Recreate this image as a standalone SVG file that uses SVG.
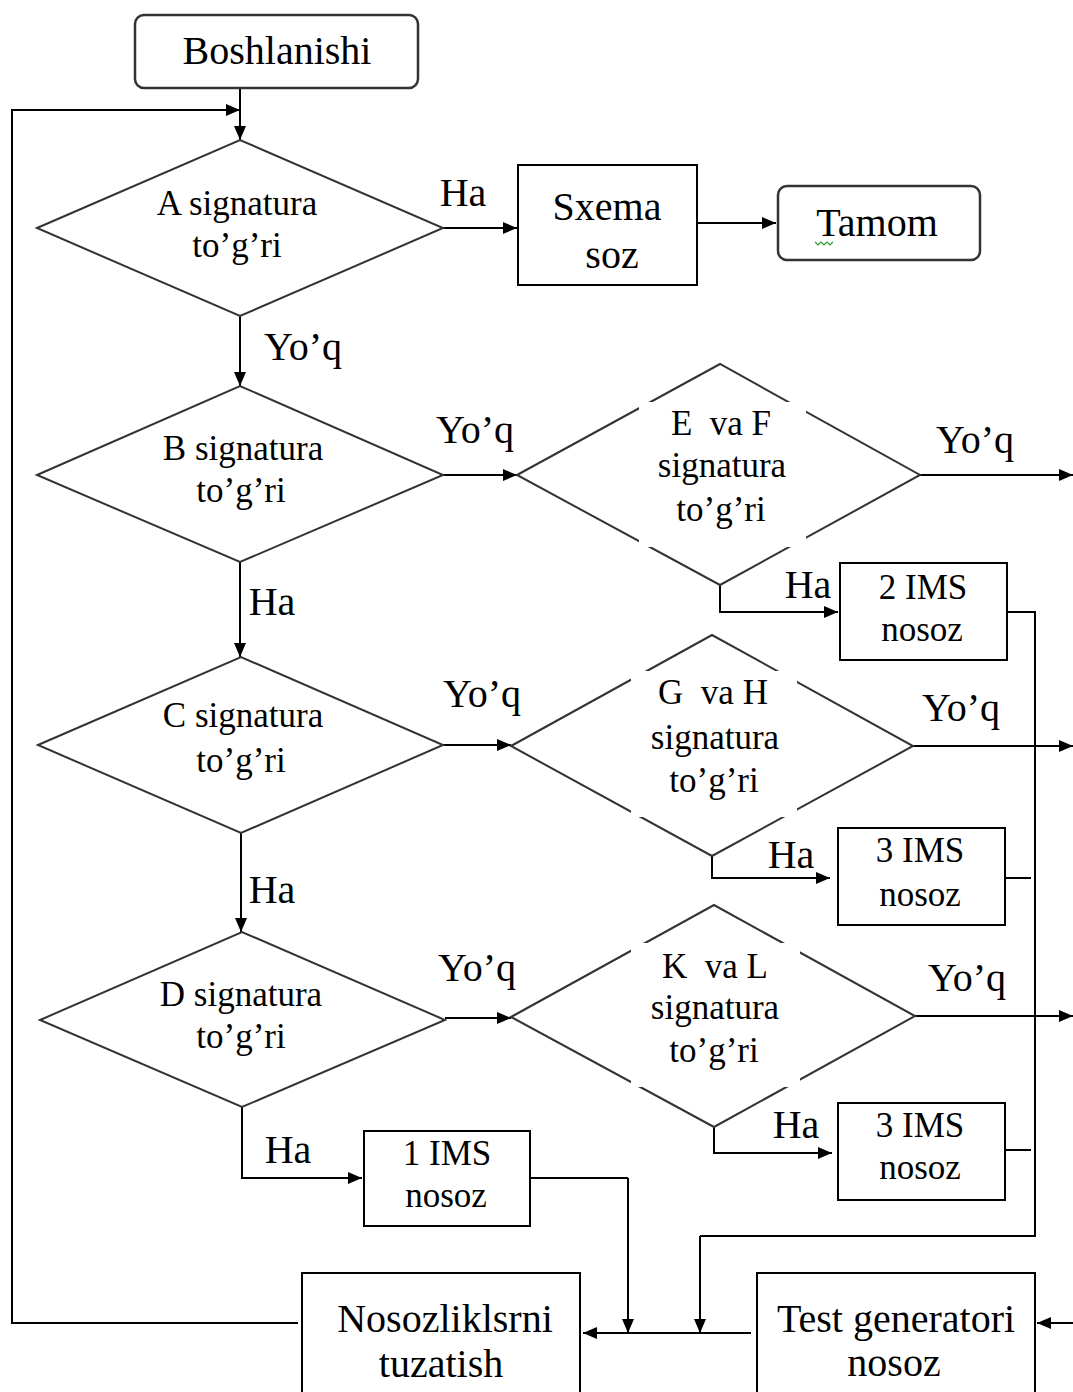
<svg xmlns="http://www.w3.org/2000/svg" width="1073" height="1392" viewBox="0 0 1073 1392">
<style>
.t{font-family:"Liberation Serif","Times New Roman",serif;fill:#000;text-anchor:middle}
.big{font-size:40px}
.mid{font-size:35px}
.pre{white-space:pre}
.box{fill:#fff;stroke:#000;stroke-width:2}
.rbox{fill:#fff;stroke:#333;stroke-width:2.5}
.dia{fill:#fff;stroke:#333;stroke-width:2}
.cover{fill:#fff;stroke:none}
.ln{fill:none;stroke:#000;stroke-width:2}
.arr{fill:none;stroke:#000;stroke-width:2;marker-end:url(#ah)}
</style>
<defs>
<marker id="ah" markerUnits="userSpaceOnUse" markerWidth="14" markerHeight="12" refX="14" refY="6" orient="auto">
<path d="M0,0 L14,6 L0,12 z" fill="#000"/>
</marker>
</defs>
<rect width="1073" height="1392" fill="#fff"/>

<g id="connectors">
<line class="arr" x1="240" y1="88" x2="240" y2="140"/>
<polyline class="arr" points="298,1323 12,1323 12,110 240,110"/>
<line class="arr" x1="443" y1="228" x2="517" y2="228"/>
<line class="arr" x1="697" y1="223" x2="776" y2="223"/>
<line class="arr" x1="240" y1="316" x2="240" y2="386"/>
<line class="arr" x1="443" y1="475" x2="517" y2="475"/>
<line class="arr" x1="920" y1="475" x2="1073" y2="475"/>
<polyline class="arr" points="720,585 720,612 838,612"/>
<polyline class="ln" points="1007,612 1035,612 1035,1236 700,1236"/>
<line class="arr" x1="700" y1="1236" x2="700" y2="1333"/>
<line class="arr" x1="240" y1="562" x2="240" y2="657"/>
<line class="arr" x1="443" y1="745" x2="511" y2="745"/>
<line class="arr" x1="913" y1="746" x2="1073" y2="746"/>
<polyline class="arr" points="712,856 712,878 830,878"/>
<line class="ln" x1="1005" y1="878" x2="1031" y2="878"/>
<line class="arr" x1="241" y1="833" x2="241" y2="932"/>
<line class="arr" x1="445" y1="1018" x2="511" y2="1018"/>
<line class="arr" x1="915" y1="1016" x2="1073" y2="1016"/>
<polyline class="arr" points="714,1127 714,1153 832,1153"/>
<line class="ln" x1="1005" y1="1150" x2="1031" y2="1150"/>
<polyline class="arr" points="242,1107 242,1178 362,1178"/>
<polyline class="ln" points="530,1178 628,1178"/>
<line class="arr" x1="628" y1="1178" x2="628" y2="1333"/>
<line class="arr" x1="751" y1="1333" x2="583" y2="1333"/>
<line class="arr" x1="1073" y1="1323" x2="1037" y2="1323"/>
</g>

<g id="labels">
<text class="t big" x="463" y="206">Ha</text>
<text class="t big" x="303" y="360">Yo’q</text>
<text class="t big" x="475" y="443">Yo’q</text>
<text class="t big" x="975" y="453">Yo’q</text>
<text class="t big" x="808" y="598">Ha</text>
<text class="t big" x="272" y="615">Ha</text>
<text class="t big" x="482" y="707">Yo’q</text>
<text class="t big" x="961" y="721">Yo’q</text>
<text class="t big" x="791" y="868">Ha</text>
<text class="t big" x="272" y="903">Ha</text>
<text class="t big" x="477" y="981">Yo’q</text>
<text class="t big" x="967" y="991">Yo’q</text>
<text class="t big" x="796" y="1138">Ha</text>
<text class="t big" x="288" y="1163">Ha</text>
</g>

<g id="start">
<rect class="rbox" x="135" y="15" width="283" height="73" rx="9"/>
<text class="t big" x="277" y="64">Boshlanishi</text>
</g>

<g id="decA">
<polygon class="dia" points="37,228 240,140 443,228 240,316"/>
<text class="t mid" x="237" y="215">A signatura</text>
<text class="t mid" x="237" y="257">to’g’ri</text>
</g>

<g id="sxema">
<rect class="box" x="518" y="165" width="179" height="120"/>
<text class="t big" x="607" y="220">Sxema</text>
<text class="t big" x="612" y="268">soz</text>
</g>

<g id="tamom">
<rect class="rbox" x="778" y="186" width="202" height="74" rx="9"/>
<text class="t big" x="877" y="236">Tamom</text>
<polyline points="815,242 818,245 821,242 824,245 827,242 830,245 833,242" fill="none" stroke="#2a9a2a" stroke-width="1.2"/>
</g>

<g id="decB">
<polygon class="dia" points="37,475 240,386 443,475 240,562"/>
<text class="t mid" x="243" y="460">B signatura</text>
<text class="t mid" x="241" y="502">to’g’ri</text>
</g>

<g id="decEF">
<polygon class="dia" points="517,475 720,364 920,475 720,585"/>
<rect class="cover" x="639" y="402" width="167" height="145"/>
<text class="t mid pre" x="721" y="435">E  va F</text>
<text class="t mid" x="722" y="477">signatura</text>
<text class="t mid" x="721" y="521">to’g’ri</text>
</g>

<g id="ims2">
<rect class="box" x="840" y="563" width="167" height="97"/>
<text class="t mid" x="923" y="599">2 IMS</text>
<text class="t mid" x="922" y="641">nosoz</text>
</g>

<g id="decC">
<polygon class="dia" points="38,745 241,657 443,745 241,833"/>
<text class="t mid" x="243" y="727">C signatura</text>
<text class="t mid" x="241" y="772">to’g’ri</text>
</g>

<g id="decGH">
<polygon class="dia" points="511,746 712,635 913,746 712,856"/>
<rect class="cover" x="631" y="671" width="166" height="146"/>
<text class="t mid pre" x="713" y="704">G  va H</text>
<text class="t mid" x="715" y="749">signatura</text>
<text class="t mid" x="714" y="792">to’g’ri</text>
</g>

<g id="ims3a">
<rect class="box" x="838" y="828" width="167" height="97"/>
<text class="t mid" x="920" y="862">3 IMS</text>
<text class="t mid" x="920" y="906">nosoz</text>
</g>

<g id="decD">
<polygon class="dia" points="40,1020 242,932 445,1020 242,1107"/>
<text class="t mid" x="241" y="1006">D signatura</text>
<text class="t mid" x="241" y="1048">to’g’ri</text>
</g>

<g id="decKL">
<polygon class="dia" points="511,1017 714,905 915,1016 714,1127"/>
<rect class="cover" x="631" y="943" width="169" height="144"/>
<text class="t mid pre" x="715" y="978">K  va L</text>
<text class="t mid" x="715" y="1019">signatura</text>
<text class="t mid" x="714" y="1062">to’g’ri</text>
</g>

<g id="ims3b">
<rect class="box" x="838" y="1103" width="167" height="97"/>
<text class="t mid" x="920" y="1137">3 IMS</text>
<text class="t mid" x="920" y="1179">nosoz</text>
</g>

<g id="ims1">
<rect class="box" x="364" y="1131" width="166" height="95"/>
<text class="t mid" x="447" y="1165">1 IMS</text>
<text class="t mid" x="446" y="1207">nosoz</text>
</g>

<g id="tuzatish">
<rect class="box" x="302" y="1273" width="278" height="130"/>
<text class="t big" x="445" y="1332">Nosozliklsrni</text>
<text class="t big" x="441" y="1377">tuzatish</text>
</g>

<g id="testgen">
<rect class="box" x="757" y="1273" width="278" height="130"/>
<text class="t big" x="896" y="1332">Test generatori</text>
<text class="t big" x="894" y="1376">nosoz</text>
</g>
</svg>
